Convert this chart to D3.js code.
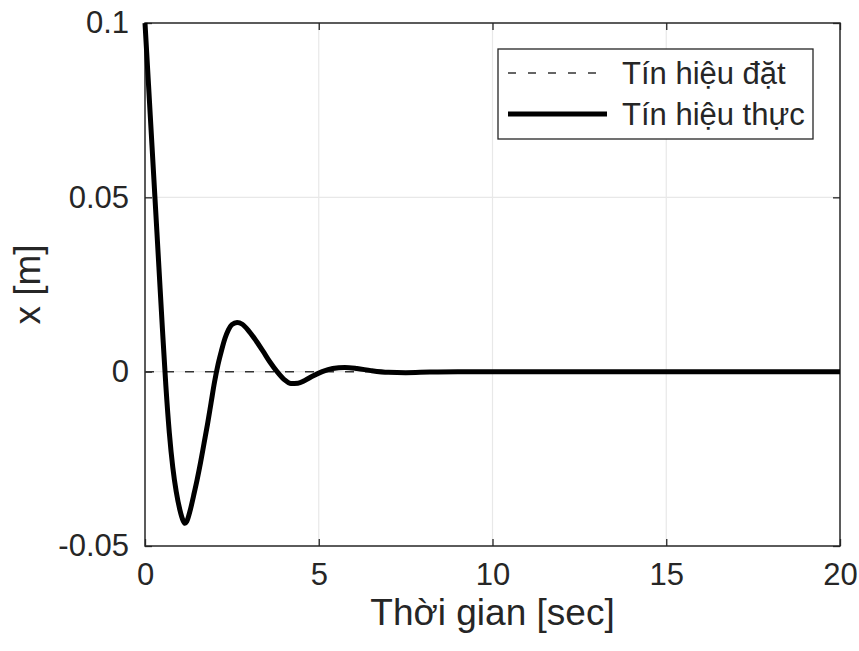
<!DOCTYPE html>
<html>
<head>
<meta charset="utf-8">
<script src="https://cdn.jsdelivr.net/npm/d3@7"></script>
<style>
  html, body { margin: 0; padding: 0; background: #fff; }
  svg { display: block; font-family: "Liberation Sans", Arial, sans-serif; }
</style>
</head>
<body>
<div id="chart"></div>
<script>
// ------------------------------------------------------------------ DATA
const timeValues = [0, 0.1, 0.2, 0.3, 0.4, 0.5, 0.6, 0.7, 0.8, 0.9, 1.0, 1.1, 1.15, 1.2, 1.3, 1.4,
  1.5, 1.6, 1.7, 1.8, 1.9, 2.0, 2.1, 2.2, 2.3, 2.4, 2.5, 2.65, 2.8, 3.0, 3.2, 3.4, 3.6, 3.8,
  4.0, 4.2, 4.4, 4.6, 4.8, 5.1, 5.4, 5.75, 6.1, 6.5, 7.0, 7.5, 8.2, 9.0, 12, 16, 20];
const actualValues = [0.1, 0.0825, 0.065, 0.0475, 0.030, 0.0125, -0.004, -0.0175, -0.0275, -0.0345,
  -0.0395, -0.0428, -0.0435, -0.043, -0.0398, -0.0355, -0.031, -0.026, -0.0205, -0.015, -0.009,
  -0.003, 0.002, 0.006, 0.0095, 0.012, 0.0135, 0.0141, 0.0136, 0.0115, 0.0088, 0.0058, 0.0027,
  0.0, -0.0022, -0.0034, -0.0033, -0.0025, -0.0014, 0.0, 0.0009, 0.0012, 0.0009, 0.0003, -0.0002,
  -0.0003, -0.0001, 0, 0, 0, 0];
const setpointTimes  = [0, 20];
const setpointValues = [0, 0];

const xTicks = [0, 5, 10, 15, 20];
const yTicks = [-0.05, 0, 0.05, 0.1];
const yTickLabels = ['-0.05', '0', '0.05', '0.1'];
const legendLabels = ['Tín hiệu đặt', 'Tín hiệu thực'];

// ------------------------------------------------------------------ LAYOUT
const width = 859, height = 651;
const plot = { left: 145, right: 840, top: 23, bottom: 546 };
const axisColor = '#262626';

const svg = d3.select('#chart').append('svg')
  .attr('width', width)
  .attr('height', height);

const x = d3.scaleLinear().domain([0, 20]).range([plot.left, plot.right]);
const y = d3.scaleLinear().domain([-0.05, 0.1]).range([plot.bottom, plot.top]);

// ------------------------------------------------------------------ GRID
const grid = svg.append('g').attr('stroke', '#e8e8e8').attr('stroke-width', 1.2);
grid.selectAll('line.gx')
  .data(xTicks.slice(1, -1))
  .join('line')
  .attr('x1', d => x(d)).attr('x2', d => x(d))
  .attr('y1', plot.top).attr('y2', plot.bottom);
grid.selectAll('line.gy')
  .data(yTicks.slice(1, -1))
  .join('line')
  .attr('y1', d => y(d)).attr('y2', d => y(d))
  .attr('x1', plot.left).attr('x2', plot.right);

// ------------------------------------------------------------------ AXES
const fontTick = 31;
const xAxis = d3.axisBottom(x).tickValues(xTicks).tickSize(-7).tickPadding(15).tickFormat(d3.format('d'));
const yAxis = d3.axisLeft(y).tickValues(yTicks).tickSize(-7).tickPadding(16)
  .tickFormat(d => yTickLabels[yTicks.indexOf(d)]);

const gx = svg.append('g').attr('transform', `translate(0,${plot.bottom})`).call(xAxis);
const gy = svg.append('g').attr('transform', `translate(${plot.left},0)`).call(yAxis);
// ticks on top and right (box on)
const gxTop = svg.append('g').attr('transform', `translate(0,${plot.top})`)
  .call(d3.axisTop(x).tickValues(xTicks).tickSize(-7).tickFormat(''));
const gyRight = svg.append('g').attr('transform', `translate(${plot.right},0)`)
  .call(d3.axisRight(y).tickValues(yTicks).tickSize(-7).tickFormat(''));

[gx, gy, gxTop, gyRight].forEach(g => {
  g.select('.domain').remove();
  g.selectAll('line').attr('stroke', axisColor).attr('stroke-width', 1.3);
  g.selectAll('text')
    .attr('fill', axisColor)
    .style('font-size', fontTick + 'px')
    .style('font-family', '"Liberation Sans", Arial, sans-serif');
});
gx.selectAll('text').attr('dy', '0.78em');

svg.append('rect')
  .attr('x', plot.left).attr('y', plot.top)
  .attr('width', plot.right - plot.left).attr('height', plot.bottom - plot.top)
  .attr('fill', 'none')
  .attr('stroke', axisColor)
  .attr('stroke-width', 1.5);

// ------------------------------------------------------------------ LINES
const setpoint = setpointTimes.map((t, i) => [t, setpointValues[i]]);
const actual = timeValues.map((t, i) => [t, actualValues[i]]);

const line = d3.line().x(d => x(d[0])).y(d => y(d[1]));
const smooth = d3.line().x(d => x(d[0])).y(d => y(d[1])).curve(d3.curveMonotoneX);

svg.append('path')
  .datum(setpoint)
  .attr('d', line)
  .attr('fill', 'none')
  .attr('stroke', '#333')
  .attr('stroke-width', 1.5)
  .attr('stroke-dasharray', '9,11');

svg.append('path')
  .datum(actual)
  .attr('d', smooth)
  .attr('fill', 'none')
  .attr('stroke', '#000')
  .attr('stroke-width', 5)
  .attr('stroke-linejoin', 'round');

// ------------------------------------------------------------------ AXIS LABELS
svg.append('text')
  .attr('x', (plot.left + plot.right) / 2)
  .attr('y', 625)
  .attr('text-anchor', 'middle')
  .attr('fill', axisColor)
  .style('font-size', '37px')
  .text('Thời gian [sec]');

svg.append('text')
  .attr('transform', `translate(40,${(plot.top + plot.bottom) / 2}) rotate(-90)`)
  .attr('text-anchor', 'middle')
  .attr('fill', axisColor)
  .style('font-size', '37px')
  .text('x [m]');

// ------------------------------------------------------------------ LEGEND
const legend = svg.append('g');
legend.append('rect')
  .attr('x', 498).attr('y', 49)
  .attr('width', 315).attr('height', 90)
  .attr('fill', '#fff')
  .attr('stroke', axisColor)
  .attr('stroke-width', 1.3);

const legendRows = [
  { label: legendLabels[0], y: 73, dash: '8,12', w: 1.5, color: '#333' },
  { label: legendLabels[1], y: 114, dash: null, w: 5, color: '#000' }
];
const row = legend.selectAll('g.row').data(legendRows).join('g');
row.append('line')
  .attr('x1', 508).attr('x2', 607)
  .attr('y1', d => d.y).attr('y2', d => d.y)
  .attr('stroke', d => d.color)
  .attr('stroke-width', d => d.w)
  .attr('stroke-dasharray', d => d.dash);
row.append('text')
  .attr('x', 622)
  .attr('y', d => d.y)
  .attr('dy', '0.35em')
  .attr('fill', axisColor)
  .style('font-size', '31px')
  .text(d => d.label);
</script>
</body>
</html>
